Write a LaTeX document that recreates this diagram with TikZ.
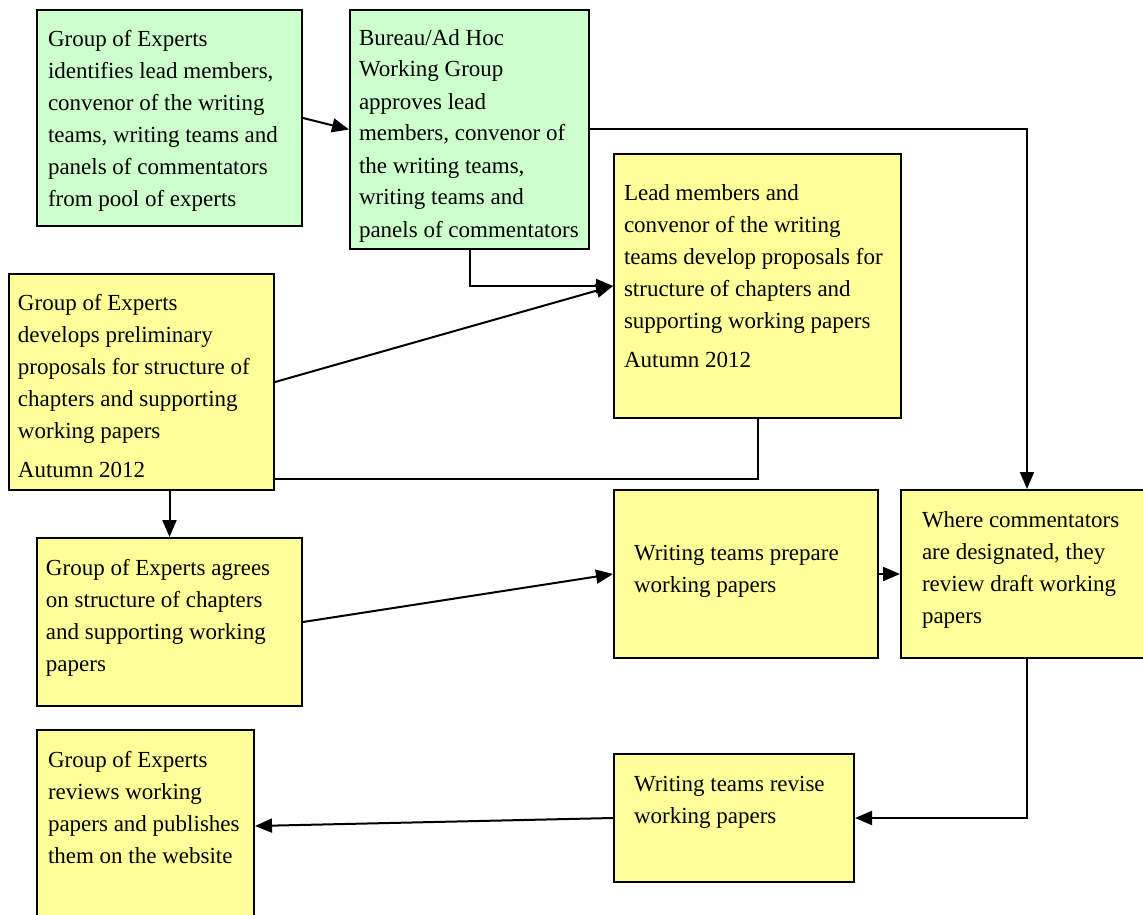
\documentclass[tikz,border=0pt]{standalone}
\usepackage{fontspec}
\setmainfont{Liberation Serif}
\usepackage{tikz}
\usetikzlibrary{arrows.meta}

\definecolor{palegreen}{RGB}{204,255,204}
\definecolor{paleyellow}{RGB}{255,255,153}

% width, height, left margin, first baseline, text
\newcommand{\stagetext}[5]{\parbox[c][#2][t]{#1}{\raggedright\leftskip=#3\rule{0pt}{#4}#5}}

\begin{document}
\begin{tikzpicture}[x=1pt,y=-1pt,
	stage/.style={draw=black,line width=2pt,anchor=north west,inner sep=0pt,font=\fontsize{23}{32}\selectfont},
	agreed/.style={stage,fill=palegreen},
	task/.style={stage,fill=paleyellow},
	link/.style={line width=2pt},
	flow/.style={link,-{Triangle[length=17pt,width=14pt]}}]
	\useasboundingbox (0,0) rectangle (1143,915);

	\node[agreed] (B1) at (36,9) {\stagetext{265pt}{216pt}{11pt}{37pt}{Group of Experts\\identifies lead members,\\convenor of the writing\\teams, writing teams and\\panels of commentators\\from pool of experts}};
	\node[agreed] (B2) at (349,9) {\stagetext{239pt}{239pt}{9pt}{35pt}{Bureau/Ad Hoc\\Working Group\\approves lead\\members, convenor of\\the writing teams,\\writing teams and\\panels of commentators}};
	\node[task] (B3) at (613,153) {\stagetext{287pt}{264pt}{10pt}{46pt}{Lead members and\\convenor of the writing\\teams develop proposals for\\structure of chapters and\\supporting working papers\\[7pt]Autumn 2012}};
	\node[task] (B4) at (8,273) {\stagetext{265pt}{216pt}{9pt}{36pt}{Group of Experts\\develops preliminary\\proposals for structure of\\chapters and supporting\\working papers\\[7pt]Autumn 2012}};
	\node[task] (B5) at (36,537) {\stagetext{265pt}{168pt}{9pt}{37pt}{Group of Experts agrees\\on structure of chapters\\and supporting working\\papers}};
	\node[task] (B6) at (613,489) {\stagetext{264pt}{168pt}{20pt}{70pt}{Writing teams prepare\\working papers}};
	\node[task] (B7) at (900,489) {\stagetext{252pt}{168pt}{21pt}{37pt}{Where commentators\\are designated, they\\review draft working\\papers}};
	\node[task] (B8) at (613,753) {\stagetext{240pt}{128pt}{20pt}{37pt}{Writing teams revise\\working papers}};
	\node[task] (B9) at (36,729) {\stagetext{217pt}{192pt}{11pt}{37pt}{Group of Experts\\reviews working\\papers and publishes\\them on the website}};

	\path [flow](B1.east) edge (B2.west);
	\draw [flow](B2.east) -| (B7.north);
	\draw [flow](B2.south) |- (B3.west);
	\path [flow](B4.east) edge (B3.west);
	\draw [link]([yshift=12pt]B4.south east) -| (B3.south);
	\draw [flow](B4.south -| B5.north) -- (B5.north);
	\path [flow](B5.east) edge (B6.west);
	\path [flow](B6.east) edge (B7.west);
	\draw [flow](B7.south) |- (B8.east);
	\path [flow](B8.west) edge (B9.east);
\end{tikzpicture}
\end{document}
